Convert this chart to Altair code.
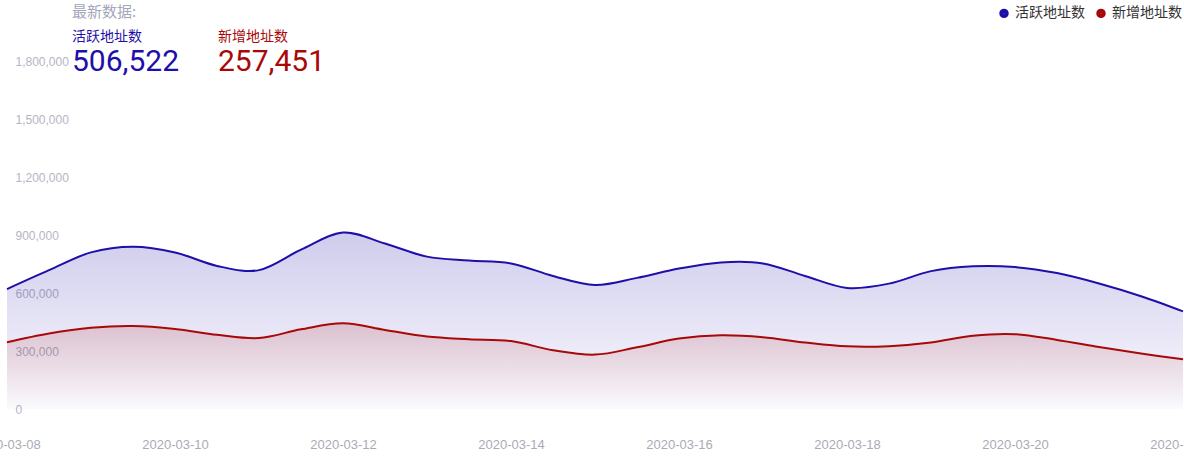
import altair as alt
import pandas as pd

# ---- data (12-hour points) ----
dates = pd.date_range("2020-03-08 00:00", "2020-03-22 00:00", freq="12h")
active = [622000, 720000, 812000, 841000, 812000, 742000, 720000, 826000, 915000,
          858000, 790000, 770000, 755000, 690000, 643000, 680000, 728000, 760000,
          755000, 690000, 628000, 650000, 715000, 740000, 736000, 705000, 651000,
          585000, 506522]
new = [346000, 391000, 421000, 430000, 415000, 385000, 368000, 413000, 444000,
       410000, 376000, 362000, 352000, 305000, 282000, 320000, 365000, 382000,
       372000, 345000, 325000, 326000, 345000, 380000, 388000, 358000, 322000,
       288000, 257451]
series_names = ["活跃地址数", "新增地址数"]
y_ticks = [0, 300000, 600000, 900000, 1200000, 1500000, 1800000]
x_tick_days = [8, 10, 12, 14, 16, 18, 20, 22]
header_title = "最新数据:"

BLUE = "#1f0fa9"
RED = "#a80808"

df = pd.DataFrame({
    "date": list(dates) * 2,
    "series": [series_names[0]] * len(dates) + [series_names[1]] * len(dates),
    "value": active + new,
})

xscale = alt.Scale(domain=[alt.DateTime(year=2020, month=3, date=8),
                           alt.DateTime(year=2020, month=3, date=22)], nice=False)
yscale = alt.Scale(domain=[0, 2100000], nice=False)

x_enc = alt.X("date:T", scale=xscale, title=None,
              axis=alt.Axis(values=[alt.DateTime(year=2020, month=3, date=d) for d in x_tick_days],
                            format="%Y-%m-%d", domain=False, ticks=False, grid=False,
                            labelPadding=29, labelFontSize=13, labelColor="#a9abb4",
                            labelFont="Liberation Sans", labelOverlap=False, labelFlush=False))
y_enc = alt.Y("value:Q", scale=yscale, title=None,
              axis=alt.Axis(values=y_ticks, format=",d", domain=False, ticks=False, tickSize=0,
                            grid=False, labelAlign="left", labelBaseline="middle",
                            labelPadding=-8, labelFontSize=12, labelColor="#b3b6c3",
                            labelFont="Liberation Sans"))

base = alt.Chart(df)
INTERP = "cardinal"

area_blue = base.transform_filter(alt.datum.series == series_names[0]).mark_area(
    interpolate=INTERP,
    color=alt.Gradient(gradient="linear", x1=0, y1=0, x2=0, y2=1,
                       stops=[alt.GradientStop(offset=0, color="rgba(31,15,169,0.21)"),
                              alt.GradientStop(offset=1, color="rgba(31,15,169,0.02)")]),
).encode(x=x_enc, y=y_enc)

area_red = base.transform_filter(alt.datum.series == series_names[1]).mark_area(
    interpolate=INTERP,
    color=alt.Gradient(gradient="linear", x1=0, y1=0, x2=0, y2=1,
                       stops=[alt.GradientStop(offset=0, color="rgba(168,8,8,0.16)"),
                              alt.GradientStop(offset=1, color="rgba(168,8,8,0.0)")]),
).encode(x=x_enc, y=y_enc)

lines = base.mark_line(interpolate=INTERP, strokeWidth=2).encode(
    x=x_enc, y=y_enc,
    color=alt.Color("series:N",
                    scale=alt.Scale(domain=series_names, range=[BLUE, RED]),
                    sort=series_names,
                    legend=alt.Legend(title=None, orient="none", legendX=990, legendY=2,
                                      direction="horizontal", symbolType="circle",
                                      symbolSize=20, symbolStrokeWidth=5,
                                      labelFontSize=14, labelColor="#333333",
                                      labelFont="Noto Sans CJK SC", labelOffset=4,
                                      columnPadding=3, padding=0)),
)

def text_layer(txt, x, y, size, color, font, baseline="middle"):
    return alt.Chart(pd.DataFrame({"t": [txt]})).mark_text(
        align="left", baseline=baseline, fontSize=size, color=color, font=font
    ).encode(x=alt.value(x), y=alt.value(y), text="t:N")

texts = [
    text_layer(header_title, 65, 8, 15, "#a3a7bb", "Noto Sans CJK SC"),
    text_layer(series_names[0], 65, 33, 14, BLUE, "Noto Sans CJK SC"),
    text_layer(f"{active[-1]:,}", 65, 58, 30, BLUE, "Roboto"),
    text_layer(series_names[1], 211, 33, 14, RED, "Noto Sans CJK SC"),
    text_layer(f"{new[-1]:,}", 211, 58, 30, RED, "Roboto"),
]

chart = alt.layer(area_blue, area_red, lines, *texts).properties(
    width=1176, height=405,
    autosize=alt.AutoSizeParams(type="none"),
    padding={"left": 7, "top": 4, "right": 1, "bottom": 52},
    background="white",
).configure_view(stroke=None)

chart.save("out.html", embed_options={"renderer": "svg", "actions": False})
